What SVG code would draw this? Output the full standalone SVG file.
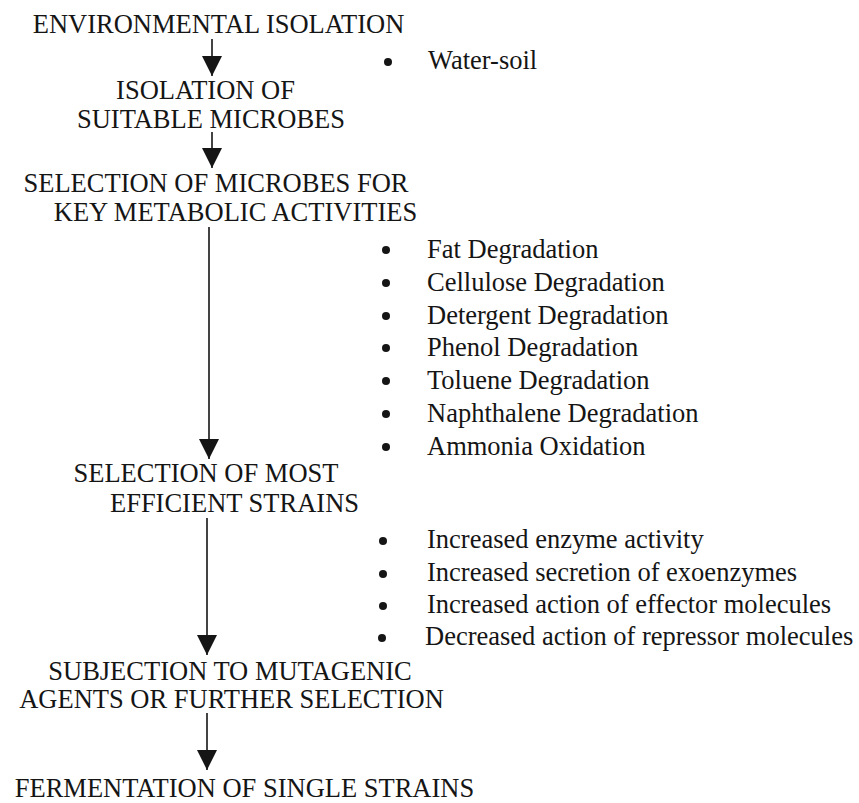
<svg xmlns="http://www.w3.org/2000/svg" width="859" height="803" viewBox="0 0 859 803">
<style>
  text { font-size: 26.5px; fill: #151515; }
  .h { text-anchor: middle; }
  .conn line { stroke: #151515; stroke-width: 1.6; marker-end: url(#ah); }
  .bul circle { fill: #151515; }
</style>
<defs>
  <marker id="ah" markerUnits="userSpaceOnUse" markerWidth="20" markerHeight="20" viewBox="0 0 20 20" refX="20" refY="10" orient="auto">
    <path d="M0,0 L20,10 L0,20 z" fill="#151515"/>
  </marker>
</defs>
<rect width="859" height="803" fill="#ffffff"/>

<g font-family="'Liberation Serif', Tinos, 'Times New Roman', 'DejaVu Serif', serif">
<g id="node-env">
  <text class="h" x="218.5" y="33">ENVIRONMENTAL ISOLATION</text>
</g>
<g id="node-iso">
  <text class="h" x="205.5" y="99">ISOLATION OF</text>
  <text class="h" x="211" y="128">SUITABLE MICROBES</text>
</g>
<g id="node-sel-key">
  <text class="h" x="216" y="192">SELECTION OF MICROBES FOR</text>
  <text class="h" x="235.5" y="221">KEY METABOLIC ACTIVITIES</text>
</g>
<g id="node-sel-most">
  <text class="h" x="206" y="482">SELECTION OF MOST</text>
  <text class="h" x="234.5" y="512">EFFICIENT STRAINS</text>
</g>
<g id="node-mut">
  <text class="h" x="230" y="680">SUBJECTION TO MUTAGENIC</text>
  <text class="h" x="231.5" y="708">AGENTS OR FURTHER SELECTION</text>
</g>
<g id="node-ferm">
  <text class="h" x="244.5" y="797">FERMENTATION OF SINGLE STRAINS</text>
</g>

<g id="list-source" class="bul">
  <circle cx="388" cy="62" r="4"/>
  <text x="428" y="69">Water-soil</text>
</g>

<g id="list-activities" class="bul">
  <circle cx="386" cy="250" r="4"/><text x="427" y="258">Fat Degradation</text>
  <circle cx="386" cy="283" r="4"/><text x="427" y="291">Cellulose Degradation</text>
  <circle cx="386" cy="316" r="4"/><text x="427" y="324">Detergent Degradation</text>
  <circle cx="386" cy="348" r="4"/><text x="427" y="356">Phenol Degradation</text>
  <circle cx="386" cy="381" r="4"/><text x="427" y="389">Toluene Degradation</text>
  <circle cx="386" cy="414" r="4"/><text x="427" y="422">Naphthalene Degradation</text>
  <circle cx="386" cy="447" r="4"/><text x="427" y="455">Ammonia Oxidation</text>
</g>

<g id="list-improvements" class="bul">
  <circle cx="383" cy="541" r="4"/><text x="427" y="548">Increased enzyme activity</text>
  <circle cx="383" cy="574" r="4"/><text x="427" y="581">Increased secretion of exoenzymes</text>
  <circle cx="383" cy="606" r="4"/><text x="427" y="613">Increased action of effector molecules</text>
  <circle cx="382" cy="638" r="4"/><text x="425" y="645">Decreased action of repressor molecules</text>
</g>
</g>

<g id="connectors" class="conn">
  <line x1="212" y1="39" x2="212" y2="76"/>
  <line x1="212" y1="132" x2="212" y2="168"/>
  <line x1="209" y1="227" x2="209" y2="459"/>
  <line x1="207" y1="518" x2="207" y2="655"/>
  <line x1="207" y1="713" x2="207" y2="770"/>
</g>
</svg>
